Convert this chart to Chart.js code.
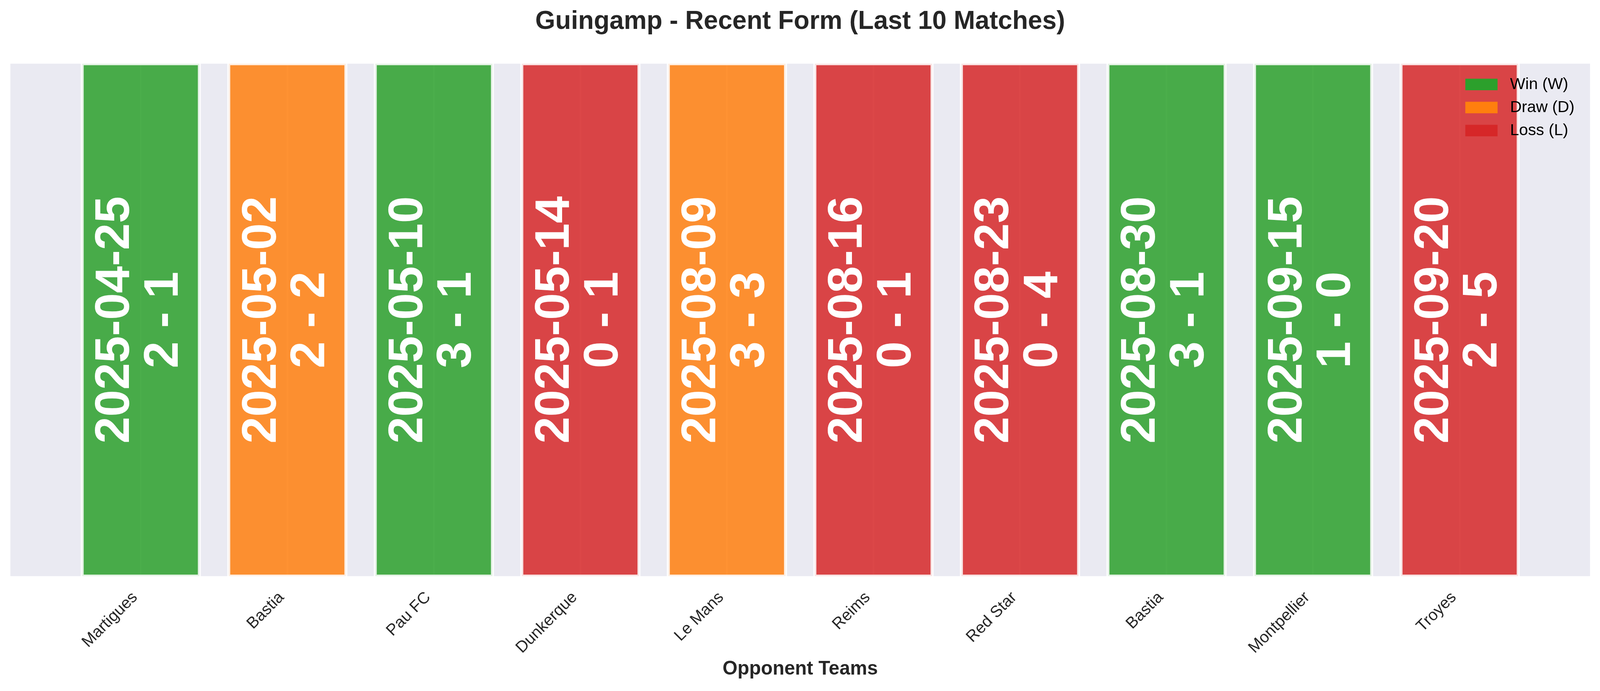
<!DOCTYPE html>
<html><head><meta charset="utf-8">
<script src="https://cdn.jsdelivr.net/npm/chart.js@4.4.1/dist/chart.umd.min.js"></script>
<style>html,body{margin:0;padding:0;background:#ffffff;overflow:hidden;}canvas{display:block;}</style>
</head><body>
<canvas id="c"></canvas>
<script>
// ---- data ----
const teams = ['Martigues','Bastia','Pau FC','Dunkerque','Le Mans','Reims','Red Star','Bastia','Montpellier','Troyes'];
const dates = ['2025-04-25','2025-05-02','2025-05-10','2025-05-14','2025-08-09','2025-08-16','2025-08-23','2025-08-30','2025-09-15','2025-09-20'];
const scores = ['2 - 1','2 - 2','3 - 1','0 - 1','3 - 3','0 - 1','0 - 4','3 - 1','1 - 0','2 - 5'];
const results = ['W','D','W','L','D','L','L','W','W','L'];
const barValues = [1,1,1,1,1,1,1,1,1,1];
const resultCodes = ['W','D','L'];
const resultLabels = ['Win (W)','Draw (D)','Loss (L)'];
const resultColors = ['#2ca02c','#ff7f0e','#d62728'];
const titleText = 'Guingamp - Recent Form (Last 10 Matches)';
const xAxisTitle = 'Opponent Teams';

// ---- sizing (design is 4170 x 1769, scaled to the actual viewport) ----
const W = window.innerWidth || 4170, H = window.innerHeight || 1769;
const sx = W / 4170, sy = H / 1769, s = Math.min(sx, sy);
const canvas = document.getElementById('c');
canvas.style.width = W + 'px'; canvas.style.height = H + 'px';
canvas.width = W; canvas.height = H;

// ---- styling helpers ----
const FONT = "'Liberation Sans', Arial, sans-serif";
const TEXT = '#262626';
const PLOT_BG = [234,234,242];
function hexToRgb(h){ h=h.replace('#',''); return [0,2,4].map(i=>parseInt(h.substr(i,2),16)); }
function over(fg,a,bg){ return fg.map((c,i)=>Math.round(a*c+(1-a)*bg[i])); }
function css(c){ return 'rgb('+c.join(',')+')'; }
function rgba(hex,a){ const c=hexToRgb(hex); return 'rgba('+c.join(',')+','+a+')'; }
function edgeTint(hex){ const fill=over(hexToRgb(hex),0.85,PLOT_BG); return css(over([255,255,255],0.85,fill)); }

Chart.defaults.font.family = FONT;
Chart.defaults.color = TEXT;

const datasets = resultCodes.map((code,k)=>({
  label: resultLabels[k],
  data: teams.map((t,i)=>results[i]===code ? {x:i, y:barValues[i]} : null).filter(Boolean),
  backgroundColor: rgba(resultColors[k],0.85),
  borderColor: edgeTint(resultColors[k]),
  borderWidth: 4*s,
  borderSkipped: false,
  barPercentage: 0.8,
  categoryPercentage: 1,
  grouped: false,
  order: 1
}));
// outer half of the white bar edge
datasets.push({
  label: 'edge',
  data: teams.map((t,i)=>({x:i, y:barValues[i]})),
  backgroundColor: 'rgba(0,0,0,0)',
  borderColor: css(over([255,255,255],0.85,PLOT_BG)),
  borderWidth: 4*s,
  borderSkipped: false,
  barPercentage: 0.821,
  categoryPercentage: 1,
  grouped: false,
  order: 10
});
const frameIndex = datasets.length - 1;

const plotBg = { id:'plotBg', beforeDraw(chart){ const {ctx, chartArea:a} = chart; ctx.save(); ctx.fillStyle = css(PLOT_BG); ctx.fillRect(a.left, a.top, a.right-a.left, a.bottom-a.top); ctx.restore(); } };

const legendInside = {
  id:'legendInside',
  beforeLayout(chart){ const lg = chart.legend; if (lg && !lg.__onTop){ lg._layers = () => [{z:10, draw:(area)=>lg.draw(area)}]; lg.__onTop = true; } },
  afterLayout(chart){
    const lg = chart.legend; if (!lg) return; const a = chart.chartArea;
    const w = lg.width;
    lg.left = a.right - 343*sx; lg.right = lg.left + w;
    lg.top = a.top + 15*sy; lg.height = a.bottom - a.top; lg.bottom = lg.top + lg.height;
  }
};

const barText = {
  id:'barText',
  afterDatasetsDraw(chart){
    const ctx = chart.ctx; const meta = chart.getDatasetMeta(frameIndex);
    meta.data.forEach((el,i)=>{
      const cx = el.x, cy = (el.y + el.base)/2;
      ctx.save();
      ctx.translate(cx, cy);
      ctx.rotate(-Math.PI/2);
      ctx.fillStyle = '#ffffff';
      ctx.font = 'bold ' + (126*s) + 'px ' + FONT;
      ctx.textAlign = 'center';
      ctx.textBaseline = 'alphabetic';
      ctx.fillText(dates[i], 0, -30.5*s);
      ctx.fillText(scores[i], 0, 96.5*s);
      ctx.restore();
    });
  }
};

new Chart(canvas, {
  type: 'bar',
  data: { datasets },
  plugins: [plotBg, legendInside, barText],
  options: {
    responsive: false,
    animation: false,
    layout: { padding: { left: 27*sx, right: 26*sx, top: 0, bottom: 0 } },
    plugins: {
      title: { display: true, text: titleText, color: TEXT, font: { size: 67*s, weight: 'bold' }, padding: { top: 16.5*sy, bottom: 163*sy - 16.5*sy - 1.2*67*s } },
      legend: {
        position: 'chartArea', align: 'start',
        labels: {
          boxWidth: 84*s, boxHeight: 30*s, padding: 18*s, color: TEXT, font: { size: 42*s },
          generateLabels: () => resultLabels.map((l,k)=>({ text: ' ' + l, fillStyle: resultColors[k], strokeStyle: resultColors[k], lineWidth: 0, hidden: false, datasetIndex: k }))
        }
      },
      tooltip: { enabled: false }
    },
    scales: {
      x: {
        type: 'linear', min: -0.89, max: 9.89, offset: false,
        afterBuildTicks: (sc) => { sc.ticks = teams.map((t,i)=>({ value: i })); },
        afterFit: (sc) => { sc.height = 294*sy; },
        ticks: { autoSkip: false, minRotation: 45, maxRotation: 45, padding: 30.5*sy, labelOffset: -15*sx, color: TEXT, font: { size: 42*s },
                 callback: (v, i) => teams[i] },
        grid: { color: '#ffffff', lineWidth: 4*s, drawTicks: false, offset: false },
        border: { display: false },
        title: { display: true, text: xAxisTitle, color: TEXT, font: { size: 50*s, weight: 'bold' }, padding: { top: 0, bottom: 26*sy } }
      },
      y: { display: false, min: 0, max: 1 }
    }
  }
});
</script>
</body></html>
